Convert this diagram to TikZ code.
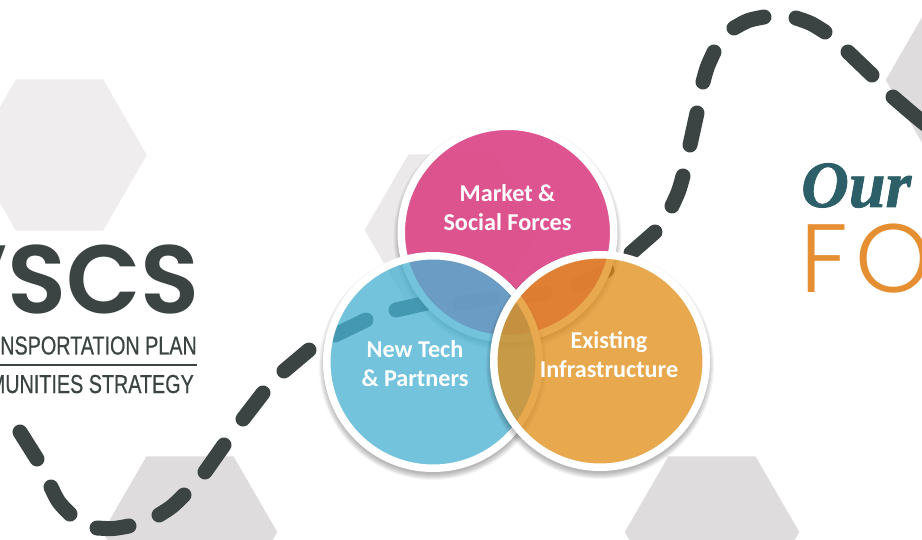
\documentclass[tikz,border=0pt]{standalone}
\usepackage{fontspec}
\usepackage{tikz}
\usetikzlibrary{shapes.geometric}
\setmainfont{Carlito}
\newfontfamily\logofont{Poppins SemiBold}
\newfontfamily\logosmall[FakeStretch=.76,FakeBold=.5]{Liberation Sans}
\newfontfamily\ourfont[FakeBold=1.2]{Liberation Serif}
\newfontfamily\focusfont{Poppins Light}
\definecolor{routegray}{HTML}{3C4443}
\definecolor{hexpale}{HTML}{EFEDEE}
\definecolor{hexmid}{HTML}{EBE9EA}
\definecolor{hexdark}{HTML}{DFDCDD}
\definecolor{marketpink}{RGB}{219,72,136}
\definecolor{techblue}{RGB}{73,178,211}
\definecolor{infraorange}{RGB}{225,142,26}
\definecolor{ourteal}{HTML}{2C5F68}
\definecolor{focusorange}{HTML}{E58E32}
\tikzset{
  hexbox/.style={regular polygon,regular polygon sides=6,minimum size=174.5pt,inner sep=0pt,outer sep=0pt},
  route/.style={routegray,line width=15pt,line cap=round},
  venn/.style={circle,minimum size=212.5pt,inner sep=0pt,draw=white,line width=7.5pt,fill opacity=#1,draw opacity=1},
  venntext/.style={white,align=center,font=\bfseries\fontsize{24.2}{29}\selectfont}
}
% Soft shadow around the lower rim of a circle
\newcommand{\rimshadow}[2]{%
\foreach \r in {108,109,...,114}
\fill[black,opacity=.045,even odd rule] (#1,#2+4) circle (\r) (#1,#2) circle (108);
}
\begin{document}
\begin{tikzpicture}[x=1pt,y=-1pt]
\clip (0,0) rectangle (922,540);
\fill[white] (0,0) rectangle (922,540);
% Draw hexagons
\node[hexbox,fill=hexpale] (hextopleft) at (59.5,155) {};
\node[hexbox,fill=hexmid] (hexcentre) at (452,230) {};
\node[hexbox,fill=hexdark] (hexbottomleft) at (190,532) {};
\node[hexbox,fill=hexdark] (hexbottomright) at (712,532) {};
\node[hexbox,fill=hexdark] (hextopright) at (973,80) {};
% Draw dashes of the route
\foreach \xa/\ya/\xb/\yb/\xc/\yc in {20/432/29/445/37/459,51/487/58/502/70/514,97/528/113/529/129/526,
159/515/172/507/184/495,205/472/214/459/224/445,243/419/253/406/263/393,284/371/296/360/309/350,
335/335/350/328/366/320,396/310/411/306/427/303,460/303/476/301/492/299,515/298/530/296/545/293,
577/285/592/279/607/270,631/253/643/243/655/232,672/206/679/191/683/176,690/145/693/129/697/113,
703/82/707/67/714/52,734/28/748/20/764/17,796/18/811/23/825/32,848/52/860/63/872/75,893/97/915/116/935/132}
\draw[route] (\xa,\ya) .. controls (\xb,\yb) .. (\xc,\yc);
% Draw circles
\rimshadow{507.5}{232.5}
\node[venn=.93,fill=marketpink] (market) at (507.5,232.5) {};
\rimshadow{433}{362}
\node[venn=.77,fill=techblue] (newtech) at (433,362) {};
\rimshadow{600}{361}
\node[venn=.77,fill=infraorange] (infra) at (600,361) {};
% Draw circle labels
\node[venntext] (marketlabel) at (507.5,208) {Market \&\\Social Forces};
\node[venntext] (newtechlabel) at (415,364) {New Tech\\\& Partners};
\node[venntext] (infralabel) at (609,355) {Existing\\Infrastructure};
% Draw logo
\node[anchor=base east,inner sep=0pt,routegray,font=\logofont\fontsize{97}{97}\selectfont] (logoname) at (200,314) {VSCS};
\node[anchor=base east,inner sep=0pt,routegray,font=\logosmall\fontsize{26}{26}\selectfont] (logoplan) at (197,354.5) {NSPORTATION PLAN};
\draw[routegray,line width=2.5pt] (0,365)--(197,365);
\node[anchor=base east,inner sep=0pt,routegray,font=\logosmall\fontsize{26}{26}\selectfont] (logostrategy) at (194,393) {MUNITIES STRATEGY};
% Draw title
\node[anchor=base west,inner sep=0pt,ourteal,font=\ourfont\bfseries\itshape\fontsize{66}{66}\selectfont] (titleour) at (801,207) {Our};
\node[anchor=base west,inner sep=0pt,focusorange,font=\focusfont\fontsize{97}{97}\selectfont] (titlefocus) at (800,293) {F\hspace{8pt}O};
\end{tikzpicture}
\end{document}
